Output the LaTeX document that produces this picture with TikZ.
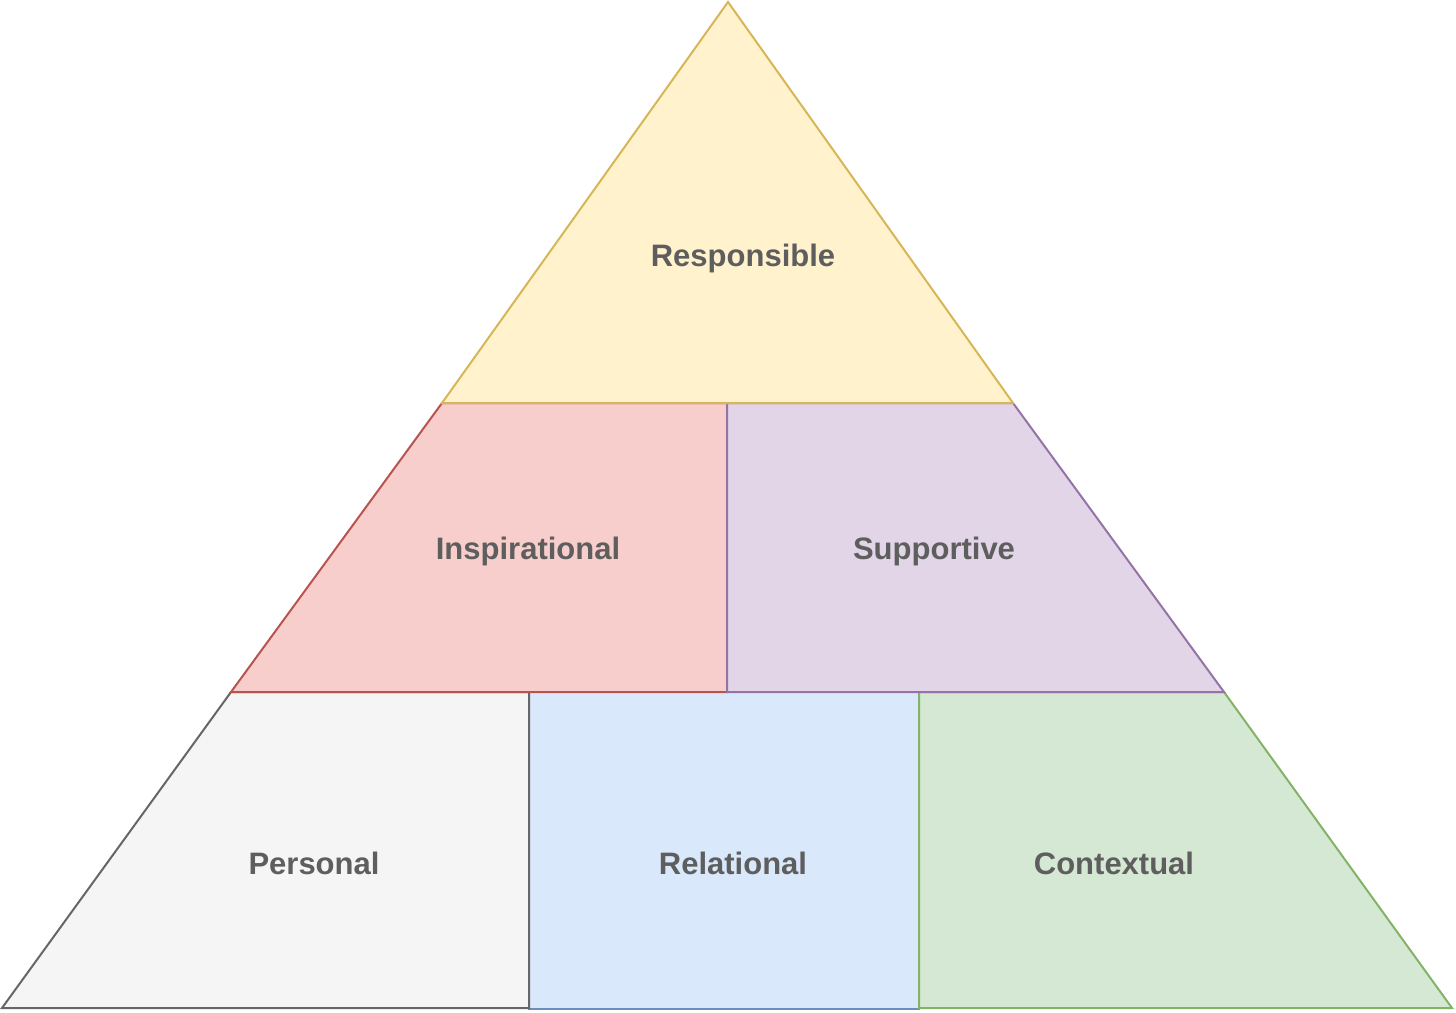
\documentclass[tikz,border=0pt]{standalone}
\usepackage{fontspec}
\setmainfont{Liberation Sans}
\usetikzlibrary{positioning}
\definecolor{LabelGray}{RGB}{94,94,94}
\definecolor{YellowFill}{HTML}{FFF2CC}
\definecolor{YellowLine}{HTML}{D6B656}
\definecolor{RedFill}{HTML}{F8CECC}
\definecolor{RedLine}{HTML}{B85450}
\definecolor{PurpleFill}{HTML}{E1D5E7}
\definecolor{PurpleLine}{HTML}{9673A6}
\definecolor{GrayFill}{HTML}{F5F5F5}
\definecolor{GrayLine}{HTML}{666666}
\definecolor{BlueFill}{HTML}{DAE8FC}
\definecolor{BlueLine}{HTML}{6C8EBF}
\definecolor{GreenFill}{HTML}{D5E8D4}
\definecolor{GreenLine}{HTML}{82B366}

\begin{document}
\begin{tikzpicture}[
                        x=0.5pt, y=-0.5pt,
                        every node/.style={font=\bfseries\fontsize{15.5}{18}\selectfont, text=LabelGray, anchor=base},
                        tier/.style={line width=1pt, line join=miter}
                    ]
                        \useasboundingbox (0,0) rectangle (1456,1012);
                        % bottom row
                        \draw[tier, draw=BlueLine, fill=BlueFill] (529,692) rectangle (919,1009);
                        \draw[tier, draw=GrayLine, fill=GrayFill] (2,1008) -- (231,692) -- (529,692) -- (529,1008) -- cycle;
                        \draw[tier, draw=GreenLine, fill=GreenFill] (919,692) -- (1224,692) -- (1452,1008) -- (919,1008) -- cycle;
                        % middle row
                        \draw[tier, draw=RedLine, fill=RedFill] (231,692) -- (442,403) -- (727,403) -- (727,692) -- cycle;
                        \draw[tier, draw=PurpleLine, fill=PurpleFill] (727,403) -- (1013,403) -- (1224,692) -- (727,692) -- cycle;
                        % top
                        \draw[tier, draw=YellowLine, fill=YellowFill] (728,2) -- (1013,403) -- (442,403) -- cycle;
                        \node (responsible) at (743,266) {Responsible};
                        \node (inspirational) at (528,559) {Inspirational};
                        \node (supportive) at (934,559) {Supportive};
                        \node (personal) at (314,874) {Personal};
                        \node (relational) at (733,874) {Relational};
                        \node (contextual) at (1114,874) {Contextual};
                    \end{tikzpicture}
\end{document}
